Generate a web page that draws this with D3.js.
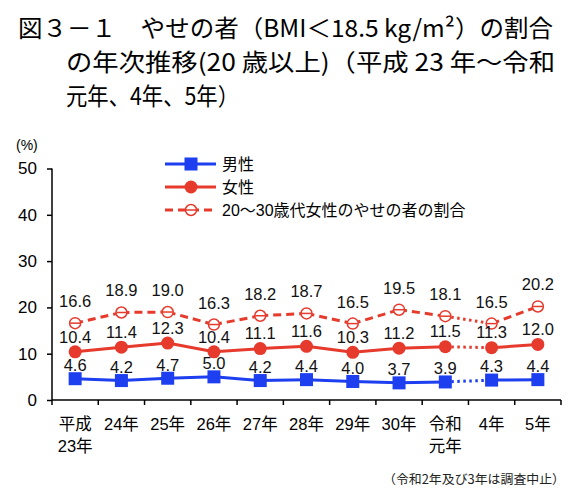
<!DOCTYPE html>
<html><head><meta charset="utf-8">
<script src="https://cdn.jsdelivr.net/npm/d3@7"></script>
<style>
html,body{margin:0;padding:0;background:#fff;}
svg{display:block;font-family:"Liberation Sans","Noto Sans CJK JP",sans-serif;}
</style></head>
<body>
<svg id="c" width="585" height="492"></svg>
<script>
const categories = [["平成","23年"],["24年"],["25年"],["26年"],["27年"],["28年"],["29年"],["30年"],["令和","元年"],["4年"],["5年"]];
const men = [4.6,4.2,4.7,5.0,4.2,4.4,4.0,3.7,3.9,4.3,4.4];
const women = [10.4,11.4,12.3,10.4,11.1,11.6,10.3,11.2,11.5,11.3,12.0];
const young = [16.6,18.9,19.0,16.3,18.2,18.7,16.5,19.5,18.1,16.5,20.2];
const yTicks = [0,10,20,30,40,50];
const seriesNames = ["男性","女性","20～30歳代女性のやせの者の割合"];
const titleLines = ["図３－１　やせの者（BMI＜18.5 kg/m²）の割合","の年次推移(20 歳以上)（平成 23 年～令和","元年、4年、5年）"];
const note = "（令和2年及び3年は調査中止）";
const gapAfter = 8; // segment from index 8 to 9 is dotted

const BLUE = "#1d3ff0", RED = "#e63a2c";
const svg = d3.select("#c");
const x0 = 52, x1 = 561, yb = 400, yt = 168.5;
const x = d3.scaleBand().domain(d3.range(categories.length)).range([x0, x1]);
const y = d3.scaleLinear().domain([0, 50]).range([yb, yt]);
const cx = i => x(i) + x.bandwidth()/2;

// title
const tf = "'Noto Sans CJK JP',sans-serif";
svg.append("text").attr("x",18).attr("y",37).attr("font-size",24).attr("font-family",tf).attr("font-weight",400).attr("textLength",535).attr("lengthAdjust","spacingAndGlyphs").text(titleLines[0]);
svg.append("text").attr("x",66).attr("y",71).attr("font-size",24).attr("font-family",tf).attr("font-weight",400).attr("textLength",489).attr("lengthAdjust","spacingAndGlyphs").text(titleLines[1]);
svg.append("text").attr("x",66).attr("y",105).attr("font-size",24).attr("font-family",tf).attr("font-weight",400).attr("textLength",173).attr("lengthAdjust","spacingAndGlyphs").text(titleLines[2]);

// unit
svg.append("text").attr("x",16).attr("y",150).attr("font-size",14).text("(%)");

// y axis
const ya = svg.append("g").attr("transform",`translate(${x0},0)`)
  .call(d3.axisLeft(y).tickValues(yTicks).tickSize(5).tickPadding(10).tickFormat(d3.format("d")));
ya.select(".domain").attr("stroke","#000").attr("stroke-width",1.5).attr("d",`M-0,${yt}V${yb}`);
ya.selectAll(".tick line").attr("stroke","#000").attr("stroke-width",1.5);
ya.selectAll(".tick text").attr("font-size",17).attr("fill","#000").attr("font-family","'Liberation Sans',sans-serif");

// x axis
const xa = svg.append("g");
xa.append("line").attr("x1",x0).attr("x2",x1).attr("y1",yb).attr("y2",yb).attr("stroke","#000").attr("stroke-width",1.5);
d3.range(categories.length+1).forEach(i=>{
  const xx = i < categories.length ? x(i) : x1;
  xa.append("line").attr("x1",xx).attr("x2",xx).attr("y1",yb).attr("y2",yb+5).attr("stroke","#000").attr("stroke-width",1.5);
});
categories.forEach((c,i)=>{
  c.forEach((t,j)=>{
    xa.append("text").attr("x",cx(i)).attr("y",430+j*22).attr("text-anchor","middle")
      .attr("font-size",16.5).attr("font-family","'Liberation Sans','Noto Sans CJK JP',sans-serif").text(t);
  });
});

function drawSeries(data, color, dashMain, marker, labelOff){
  const g = svg.append("g");
  for(let i=0;i<data.length-1;i++){
    const dotted = i===gapAfter;
    g.append("line").attr("x1",cx(i)).attr("y1",y(data[i])).attr("x2",cx(i+1)).attr("y2",y(data[i+1]))
      .attr("stroke",color).attr("stroke-width",3)
      .attr("stroke-dasharray", dotted ? "2.5,3.5" : dashMain);
  }
  data.forEach((v,i)=>{
    if(marker==="square"){
      g.append("rect").attr("x",cx(i)-6.5).attr("y",y(v)-6.5).attr("width",13).attr("height",13).attr("fill",color);
    } else if(marker==="circle"){
      g.append("circle").attr("cx",cx(i)).attr("cy",y(v)).attr("r",6.5).attr("fill",color);
    } else {
      g.append("circle").attr("cx",cx(i)).attr("cy",y(v)).attr("r",5.5).attr("fill","#fff").attr("stroke",color).attr("stroke-width",1.5);
      g.append("line").attr("x1",cx(i)-5).attr("x2",cx(i)+5).attr("y1",y(v)).attr("y2",y(v)).attr("stroke",color).attr("stroke-width",1.5);
    }
    g.append("text").attr("x",cx(i)).attr("y",y(v)-labelOff).attr("text-anchor","middle")
      .attr("font-size",16.5).attr("fill","#111").text(v.toFixed(1));
  });
}
drawSeries(young, RED, "8,5", "open", 16);
drawSeries(women, RED, null, "circle", 9.3);
drawSeries(men, BLUE, null, "square", 7.6);

// legend
const leg = svg.append("g");
const legItems = [[BLUE,null,"square"],[RED,null,"circle"],[RED,"8,5","open"]];
legItems.forEach((it,k)=>{
  const ly = 164 + k*23;
  leg.append("line").attr("x1",165).attr("x2",216).attr("y1",ly).attr("y2",ly).attr("stroke",it[0]).attr("stroke-width",3).attr("stroke-dasharray",it[1]);
  if(it[2]==="square") leg.append("rect").attr("x",184.5).attr("y",ly-6.5).attr("width",13).attr("height",13).attr("fill",it[0]);
  else if(it[2]==="circle") leg.append("circle").attr("cx",191).attr("cy",ly).attr("r",6.5).attr("fill",it[0]);
  else { leg.append("circle").attr("cx",191).attr("cy",ly).attr("r",5.5).attr("fill","#fff").attr("stroke",it[0]).attr("stroke-width",1.5);
         leg.append("line").attr("x1",186).attr("x2",196).attr("y1",ly).attr("y2",ly).attr("stroke",it[0]).attr("stroke-width",1.5); }
  leg.append("text").attr("x",222).attr("y",ly+6).attr("font-size",16).attr("font-family","'Liberation Sans','Noto Sans CJK JP',sans-serif").text(seriesNames[k]);
});

// note
svg.append("text").attr("x",383).attr("y",484).attr("font-size",12.5)
  .attr("font-family","'Noto Sans CJK JP',sans-serif").attr("fill","#222")
  .attr("textLength",182).attr("lengthAdjust","spacingAndGlyphs").text(note);
</script>
</body></html>
